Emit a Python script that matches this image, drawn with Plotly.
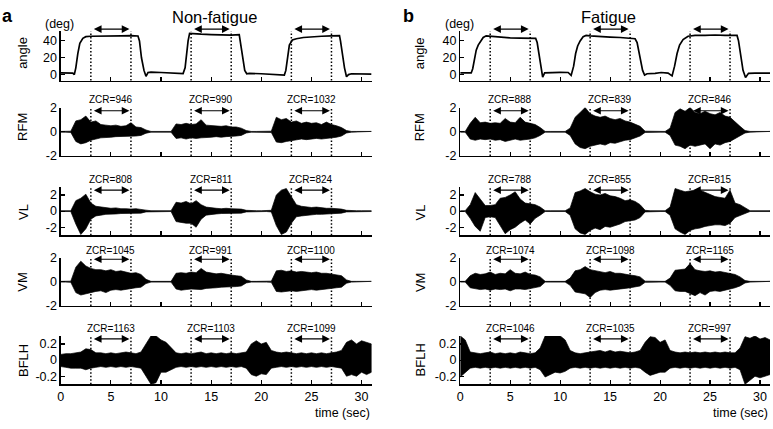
import plotly.graph_objects as go

# ---------------- data ----------------
# knee angle (deg): sample times (sec) and values
NF_ANG_T = [0, 1.2, 1.35, 1.5, 1.7, 1.9, 2.2, 2.5, 3, 4, 5, 6, 7, 7.7, 7.85, 8.05, 8.3, 8.5, 8.7, 9, 10, 11,
            12.2, 12.4, 12.55, 12.7, 12.85, 13.2, 14, 15, 16, 17, 17.8, 17.9, 18.1, 18.35, 18.55, 18.8, 20, 21,
            22.3, 22.45, 22.6, 22.8, 23.1, 23.5, 24.2, 25, 26, 27, 27.8, 27.9, 28.1, 28.3, 28.5, 28.7, 29, 30, 31]
NF_ANG = [2, 1.8, 0, 8, 25, 37, 43, 45, 45.5, 45.8, 46.5, 46, 46.2, 45.8, 40, 20, 5, -2, 2.5, 3, 2.5, 1.8,
          1.2, 8, 25, 40, 49, 48.5, 48, 47.5, 47.2, 46.8, 47.5, 40, 20, 5, 1, 1.5, 1, 0.5,
          -0.5, 5, 20, 35, 41, 42.5, 44, 45, 45.5, 46, 46.3, 40, 22, 8, -2.5, 0, 1, 0.5, 0.5]

F_ANG_T = [0, 1.1, 1.25, 1.45, 1.6, 1.8, 2.0, 2.3, 2.6, 3, 4, 5, 6, 7, 7.55, 7.7, 7.9, 8.1, 8.25, 8.45, 9, 10,
           10.8, 11.1, 11.35, 11.55, 11.75, 12.0, 12.3, 12.6, 13, 14, 15, 16, 17, 17.5, 17.7, 17.95, 18.25,
           18.45, 18.7, 19.5, 20.1, 20.8, 21.2, 21.45, 21.7, 21.95, 22.3, 22.8, 23.5, 24.5, 25.5, 26.5, 27.7,
           27.85, 28.05, 28.3, 28.55, 28.85, 29.5, 31]
F_ANG = [2, 2, 7, 20, 29, 35, 39, 44, 46, 45.5, 44, 43.5, 43.2, 43, 43, 38, 22, 5, -3, 2, 2.5, 2.7,
         2.5, -1, 10, 25, 34, 40, 45, 46.5, 46, 45, 44.5, 44, 43.5, 42.5, 38, 22, 5,
         -0.5, 1, 1.5, 2.5, 1.8, -1.5, 10, 25, 35, 41.5, 45.5, 46.5, 46.5, 47, 46.5, 46.5,
         40, 22, 5, -3.5, 1.5, 1.8, 1.8]

# EMG envelopes (upper / lower), sampled every 0.5 s from 0 to 31 s
EMG_T = [i * 0.5 for i in range(63)]

NF_RFM_UP = [0.03, 0.03, 0.05, 0.90, 1.00, 1.30, 0.80, 0.90, 0.60, 0.55,
             0.50, 0.55, 0.45, 0.50, 0.75, 0.40, 0.35, 0.15, 0.03, 0.03,
             0.03, 0.03, 0.03, 0.65, 0.60, 0.70, 0.60, 0.65, 1.00, 0.55,
             0.50, 0.50, 0.45, 0.50, 0.40, 0.40, 0.30, 0.10, 0.03, 0.03,
             0.03, 0.03, 0.05, 1.20, 1.00, 1.10, 0.80, 0.90, 0.70, 0.80,
             0.70, 0.75, 0.60, 0.80, 0.60, 0.50, 0.35, 0.10, 0.03, 0.03,
             0.03, 0.03, 0.03]
NF_RFM_LO = [-0.03, -0.03, -0.05, -0.80, -1.00, -0.90, -0.70, -0.60, -0.50, -0.45,
             -0.45, -0.40, -0.40, -0.40, -0.35, -0.35, -0.30, -0.12, -0.03, -0.03,
             -0.03, -0.03, -0.03, -0.55, -0.50, -0.60, -0.50, -0.55, -0.50, -0.45,
             -0.45, -0.40, -0.45, -0.40, -0.35, -0.35, -0.30, -0.10, -0.03, -0.03,
             -0.03, -0.03, -0.05, -0.85, -0.90, -0.80, -0.70, -0.65, -0.60, -0.65,
             -0.60, -0.55, -0.60, -0.50, -0.50, -0.45, -0.35, -0.10, -0.03, -0.03,
             -0.03, -0.03, -0.03]

NF_VL_UP = [0.05, 0.05, 0.05, 1.30, 1.60, 2.10, 1.00, 0.60, 0.50, 0.45,
            0.35, 0.40, 0.30, 0.30, 0.25, 0.30, 0.25, 0.12, 0.05, 0.05,
            0.05, 0.05, 0.05, 1.10, 1.00, 1.20, 0.90, 1.30, 0.80, 0.50,
            0.40, 0.35, 0.30, 0.35, 0.30, 0.30, 0.25, 0.10, 0.05, 0.05,
            0.05, 0.05, 0.10, 2.00, 2.60, 2.80, 1.80, 0.80, 0.60, 0.50,
            0.45, 0.50, 0.40, 0.35, 0.35, 0.30, 0.25, 0.10, 0.05, 0.05,
            0.05, 0.05, 0.05]
NF_VL_LO = [-0.05, -0.05, -0.05, -1.60, -2.90, -2.20, -1.00, -0.60, -0.50, -0.40,
            -0.35, -0.35, -0.30, -0.30, -0.25, -0.25, -0.25, -0.10, -0.05, -0.05,
            -0.05, -0.05, -0.05, -1.30, -1.40, -1.50, -1.50, -2.00, -1.00, -0.50,
            -0.40, -0.35, -0.30, -0.30, -0.30, -0.25, -0.25, -0.10, -0.05, -0.05,
            -0.05, -0.05, -0.10, -1.80, -2.90, -2.60, -1.50, -0.70, -0.60, -0.50,
            -0.45, -0.40, -0.40, -0.35, -0.35, -0.30, -0.25, -0.10, -0.05, -0.05,
            -0.05, -0.05, -0.05]

NF_VM_UP = [0.03, 0.03, 0.05, 1.20, 1.70, 1.30, 1.10, 1.00, 1.00, 0.90,
            1.00, 0.85, 0.90, 0.80, 0.70, 0.75, 0.60, 0.20, 0.03, 0.03,
            0.03, 0.03, 0.03, 0.70, 0.75, 0.70, 0.80, 0.75, 1.10, 0.80,
            0.70, 0.65, 0.70, 0.60, 0.55, 0.50, 0.45, 0.15, 0.03, 0.03,
            0.03, 0.03, 0.05, 0.90, 0.95, 0.85, 0.90, 0.80, 0.85, 0.80,
            0.75, 0.80, 0.70, 0.70, 0.65, 0.60, 0.50, 0.15, 0.03, 0.03,
            0.03, 0.03, 0.03]
NF_VM_LO = [-0.03, -0.03, -0.05, -0.90, -1.10, -1.05, -0.90, -0.80, -0.75, -0.90,
            -0.70, -0.65, -0.70, -0.60, -0.55, -0.50, -0.45, -0.15, -0.03, -0.03,
            -0.03, -0.03, -0.03, -0.60, -0.70, -0.65, -0.60, -0.60, -0.65, -0.55,
            -0.50, -0.50, -0.45, -0.45, -0.40, -0.40, -0.35, -0.10, -0.03, -0.03,
            -0.03, -0.03, -0.05, -0.80, -0.85, -0.80, -0.75, -0.80, -0.70, -0.70,
            -0.65, -0.70, -0.60, -0.60, -0.55, -0.50, -0.45, -0.12, -0.03, -0.03,
            -0.03, -0.03, -0.03]

NF_BF_UP = [0.07, 0.08, 0.08, 0.09, 0.10, 0.14, 0.13, 0.09, 0.09, 0.08,
            0.09, 0.08, 0.09, 0.10, 0.09, 0.08, 0.10, 0.20, 0.30, 0.30,
            0.25, 0.22, 0.15, 0.09, 0.08, 0.09, 0.08, 0.09, 0.10, 0.08,
            0.09, 0.08, 0.09, 0.08, 0.09, 0.08, 0.09, 0.10, 0.20, 0.24,
            0.20, 0.22, 0.12, 0.10, 0.09, 0.10, 0.09, 0.08, 0.09, 0.08,
            0.09, 0.08, 0.09, 0.08, 0.09, 0.10, 0.12, 0.22, 0.25, 0.20,
            0.24, 0.22, 0.20]
NF_BF_LO = [-0.08, -0.09, -0.10, -0.10, -0.10, -0.12, -0.10, -0.09, -0.08, -0.09,
            -0.08, -0.09, -0.08, -0.09, -0.08, -0.09, -0.10, -0.20, -0.30, -0.28,
            -0.15, -0.15, -0.12, -0.09, -0.08, -0.09, -0.08, -0.09, -0.08, -0.09,
            -0.08, -0.09, -0.08, -0.09, -0.08, -0.09, -0.08, -0.10, -0.18, -0.20,
            -0.17, -0.18, -0.10, -0.09, -0.08, -0.09, -0.08, -0.09, -0.08, -0.09,
            -0.08, -0.09, -0.08, -0.09, -0.08, -0.09, -0.10, -0.20, -0.18, -0.20,
            -0.15, -0.18, -0.15]

F_RFM_UP = [0.03, 0.03, 0.70, 1.20, 0.75, 0.80, 0.70, 0.75, 0.70, 1.10,
            0.80, 0.75, 1.20, 0.80, 0.70, 0.60, 0.35, 0.03, 0.03, 0.03,
            0.03, 0.03, 0.30, 1.20, 1.60, 2.00, 1.50, 1.30, 1.20, 1.30,
            1.10, 1.00, 1.10, 0.90, 0.80, 0.60, 0.45, 0.05, 0.03, 0.03,
            0.03, 0.03, 0.30, 1.60, 1.90, 1.70, 2.00, 1.60, 1.50, 1.70,
            1.50, 1.40, 1.60, 1.30, 1.20, 0.80, 0.45, 0.10, 0.03, 0.03,
            0.03, 0.03, 0.03]
F_RFM_LO = [-0.03, -0.03, -0.60, -0.70, -0.60, -0.65, -0.60, -0.70, -0.65, -0.80,
            -0.70, -0.60, -0.70, -0.65, -0.60, -0.50, -0.30, -0.03, -0.03, -0.03,
            -0.03, -0.03, -0.30, -1.00, -1.30, -1.40, -1.20, -1.10, -1.00, -1.10,
            -0.90, -0.95, -0.80, -0.70, -0.65, -0.50, -0.35, -0.05, -0.03, -0.03,
            -0.03, -0.03, -0.30, -1.10, -1.20, -1.40, -1.10, -1.20, -1.10, -1.00,
            -1.40, -1.00, -1.10, -0.90, -0.80, -0.60, -0.35, -0.10, -0.03, -0.03,
            -0.03, -0.03, -0.03]

F_VL_UP = [0.05, 0.05, 0.80, 2.30, 1.50, 0.70, 0.70, 0.80, 1.60, 1.70,
           2.00, 2.40, 1.50, 1.00, 0.90, 0.80, 0.50, 0.05, 0.05, 0.05,
           0.05, 0.05, 0.40, 2.30, 2.50, 2.80, 2.40, 2.10, 2.00, 2.20,
           1.90, 1.80, 1.60, 1.30, 1.40, 1.20, 0.80, 0.10, 0.05, 0.05,
           0.05, 0.05, 0.50, 2.80, 2.60, 2.40, 2.50, 2.60, 2.60, 2.30,
           2.00, 1.80, 1.70, 1.60, 2.60, 1.00, 0.80, 0.40, 0.05, 0.05,
           0.05, 0.05, 0.05]
F_VL_LO = [-0.05, -0.05, -0.90, -1.90, -2.50, -0.80, -0.70, -0.80, -1.80, -2.80,
           -2.30, -2.00, -1.50, -1.10, -1.60, -0.90, -0.50, -0.05, -0.05, -0.05,
           -0.05, -0.05, -0.50, -2.20, -2.70, -2.90, -2.40, -2.10, -2.30, -1.90,
           -2.00, -1.80, -1.60, -1.30, -1.20, -1.10, -0.80, -0.10, -0.05, -0.05,
           -0.05, -0.05, -0.50, -2.20, -2.60, -2.90, -2.40, -2.20, -2.10, -1.90,
           -1.80, -1.70, -1.70, -1.80, -1.50, -0.80, -0.60, -0.30, -0.05, -0.05,
           -0.05, -0.05, -0.05]

F_VM_UP = [0.03, 0.03, 0.50, 0.70, 0.60, 0.65, 0.80, 0.60, 0.70, 0.65,
           1.00, 0.70, 0.65, 0.80, 0.60, 0.55, 0.40, 0.03, 0.03, 0.03,
           0.03, 0.03, 0.30, 0.90, 1.00, 1.25, 1.00, 0.90, 0.80, 0.75,
           0.85, 0.70, 0.70, 0.60, 0.55, 0.50, 0.40, 0.05, 0.03, 0.03,
           0.03, 0.03, 0.30, 0.95, 1.00, 1.05, 1.50, 1.00, 0.90, 0.85,
           0.90, 0.80, 0.85, 0.75, 0.70, 0.60, 0.40, 0.10, 0.03, 0.03,
           0.03, 0.03, 0.03]
F_VM_LO = [-0.03, -0.03, -0.50, -0.60, -0.65, -0.60, -0.70, -0.60, -0.65, -0.60,
           -0.75, -0.60, -0.60, -0.65, -0.55, -0.50, -0.40, -0.03, -0.03, -0.03,
           -0.03, -0.03, -0.30, -0.85, -0.90, -1.00, -1.30, -0.90, -0.70, -0.65,
           -0.70, -0.60, -0.60, -0.55, -0.50, -0.45, -0.35, -0.05, -0.03, -0.03,
           -0.03, -0.03, -0.30, -0.75, -0.80, -0.80, -1.00, -1.15, -0.90, -1.10,
           -0.80, -0.75, -0.80, -0.70, -0.60, -0.50, -0.35, -0.10, -0.03, -0.03,
           -0.03, -0.03, -0.03]

F_BF_UP = [0.30, 0.25, 0.10, 0.09, 0.08, 0.09, 0.10, 0.08, 0.09, 0.08,
           0.09, 0.08, 0.10, 0.09, 0.08, 0.09, 0.15, 0.30, 0.30, 0.30,
           0.30, 0.25, 0.12, 0.09, 0.08, 0.09, 0.10, 0.11, 0.12, 0.10,
           0.12, 0.10, 0.11, 0.10, 0.09, 0.10, 0.12, 0.22, 0.29, 0.28,
           0.22, 0.25, 0.12, 0.10, 0.09, 0.10, 0.09, 0.10, 0.09, 0.10,
           0.09, 0.10, 0.09, 0.10, 0.09, 0.09, 0.15, 0.29, 0.27, 0.30,
           0.26, 0.28, 0.25]
F_BF_LO = [-0.21, -0.15, -0.10, -0.09, -0.10, -0.09, -0.10, -0.09, -0.10, -0.09,
           -0.10, -0.09, -0.10, -0.09, -0.10, -0.09, -0.12, -0.21, -0.18, -0.15,
           -0.16, -0.14, -0.10, -0.09, -0.10, -0.09, -0.10, -0.09, -0.10, -0.09,
           -0.10, -0.09, -0.10, -0.09, -0.10, -0.09, -0.10, -0.15, -0.19, -0.17,
           -0.15, -0.15, -0.10, -0.09, -0.10, -0.09, -0.10, -0.09, -0.10, -0.09,
           -0.10, -0.09, -0.10, -0.09, -0.10, -0.09, -0.12, -0.30, -0.25, -0.20,
           -0.22, -0.20, -0.18]

# zero-crossing rates per window
NF_ZCR = {"RFM": [946, 990, 1032], "VL": [808, 811, 824], "VM": [1045, 991, 1100], "BFLH": [1163, 1103, 1099]}
F_ZCR = {"RFM": [888, 839, 846], "VL": [788, 855, 815], "VM": [1074, 1098, 1165], "BFLH": [1046, 1035, 997]}

WINDOWS = [(3, 7), (13, 17), (23, 27)]
ROW_NAMES = ["angle", "RFM", "VL", "VM", "BFLH"]
PANEL_TITLES = ["Non-fatigue", "Fatigue"]
PANEL_LETTERS = ["a", "b"]
X_TICKS = [0, 5, 10, 15, 20, 25, 30]
Y_TICKS = [[0, 20, 40], [-2, 0, 2], [-2, 0, 2], [-2, 0, 2], [-0.2, 0, 0.2]]
Y_TICKTEXT = [["0", "20", "40"], ["-2", "0", "2"], ["-2", "0", "2"], ["-2", "0", "2"], ["-0.2", "0", "0.2"]]

# ---------------- layout constants ----------------
W, H = 773, 429
FONT = "Arial, 'Liberation Sans', Helvetica, sans-serif"
X_PIX = [(58, 370), (459, 770)]
Y_PIX = [(25, 76), (104, 154), (186, 236), (259, 309), (340, 390)]
Y_RANGES = [[-7, 51.5], [-2, 2], [-3, 3], [-2, 2], [-0.3, 0.3]]
ARROW_Y = [54, 1.74, 2.6, 1.86, 0.263]      # in data units of each row
TEXT_Y = [None, 2.68, 3.92, 2.58, 0.398]
LABEL_PIX_Y = [47.5, 124, 212, 284, 365]
LABEL_PIX_X = [20, 419]

panels = [
    {"ang_t": NF_ANG_T, "ang": NF_ANG, "emg": [(NF_RFM_UP, NF_RFM_LO), (NF_VL_UP, NF_VL_LO),
                                             (NF_VM_UP, NF_VM_LO), (NF_BF_UP, NF_BF_LO)], "zcr": NF_ZCR},
    {"ang_t": F_ANG_T, "ang": F_ANG, "emg": [(F_RFM_UP, F_RFM_LO), (F_VL_UP, F_VL_LO),
                                           (F_VM_UP, F_VM_LO), (F_BF_UP, F_BF_LO)], "zcr": F_ZCR},
]


def px_x(p):
    return p / W


def px_y(p):
    return 1 - p / H


def dom(r, v):
    lo, hi = Y_RANGES[r]
    return (v - lo) / (hi - lo)


fig = go.Figure()
layout = dict(
    width=W, height=H, margin=dict(l=0, r=0, t=0, b=0),
    paper_bgcolor="white", plot_bgcolor="white", showlegend=False,
    font=dict(family=FONT, color="black", size=12),
)
shapes = []
annotations = []

for p, panel in enumerate(panels):
    for r in range(5):
        idx = p * 5 + r + 1
        suf = "" if idx == 1 else str(idx)
        xr, yr = "x" + suf, "y" + suf
        x0, x1 = X_PIX[p]
        ytop, ybot = Y_PIX[r]
        layout["xaxis" + suf] = dict(
            domain=[px_x(x0), px_x(x1)], range=[0, 31], anchor=yr,
            tickvals=X_TICKS, ticks="inside", ticklen=4, tickwidth=1.1, tickcolor="black",
            showline=True, linecolor="black", linewidth=1.3,
            showgrid=False, zeroline=False, showticklabels=(r == 4),
            tickfont=dict(size=12.5, family=FONT, color="black"), fixedrange=True,
        )
        layout["yaxis" + suf] = dict(
            domain=[px_y(ybot), px_y(ytop)], range=Y_RANGES[r], anchor=xr,
            tickvals=Y_TICKS[r], ticktext=Y_TICKTEXT[r],
            ticks="inside", ticklen=4, tickwidth=1.1, tickcolor="black",
            showline=True, linecolor="black", linewidth=1.3,
            showgrid=False, zeroline=False,
            tickfont=dict(size=12.5, family=FONT, color="black"), fixedrange=True,
        )
        # data traces
        if r == 0:
            fig.add_trace(go.Scatter(x=panel["ang_t"], y=panel["ang"], mode="lines",
                                     line=dict(color="black", width=1.7),
                                     xaxis=xr, yaxis=yr, hoverinfo="skip"))
        else:
            up, lo = panel["emg"][r - 1]
            fig.add_trace(go.Scatter(x=EMG_T + EMG_T[::-1], y=up + lo[::-1], mode="lines",
                                     fill="toself", fillcolor="black",
                                     line=dict(color="black", width=0.7),
                                     xaxis=xr, yaxis=yr, hoverinfo="skip"))
        ydom = yr + " domain"
        for k, (a, b) in enumerate(WINDOWS):
            # dotted window boundaries
            for v in (a, b):
                shapes.append(dict(type="line", xref=xr, yref=ydom, x0=v, x1=v, y0=0, y1=1,
                                   line=dict(color="black", width=1.5, dash="1.5px,2px")))
            # double-headed arrow
            annotations.append(dict(xref=xr, yref=ydom, axref=xr, ayref=ydom,
                                    x=b - 0.15, y=dom(r, ARROW_Y[r]), ax=a + 0.15, ay=dom(r, ARROW_Y[r]),
                                    text="", showarrow=True, arrowhead=2, startarrowhead=2,
                                    arrowside="end+start", arrowsize=1.4, startarrowsize=1.4,
                                    arrowwidth=1.1, arrowcolor="black"))
            if r > 0:
                annotations.append(dict(xref=xr, yref=ydom, x=(a + b) / 2, y=dom(r, TEXT_Y[r]),
                                        text="ZCR=%d" % panel["zcr"][ROW_NAMES[r]][k],
                                        showarrow=False, xanchor="center", yanchor="middle",
                                        font=dict(size=10, family=FONT, color="black")))
        # row label
        annotations.append(dict(xref="paper", yref="paper", x=px_x(LABEL_PIX_X[p]), y=px_y(LABEL_PIX_Y[r]),
                                text=ROW_NAMES[r], textangle=-90, showarrow=False,
                                xanchor="center", yanchor="middle",
                                font=dict(size=13, family=FONT, color="black")))
    # panel title, letter, unit, x label
    annotations.append(dict(xref="paper", yref="paper", x=px_x([212, 608][p]), y=px_y(10),
                            text=PANEL_TITLES[p], showarrow=False, xanchor="center", yanchor="middle",
                            font=dict(size=16.5, family=FONT, color="black")))
    annotations.append(dict(xref="paper", yref="paper", x=px_x([5, 407][p]), y=px_y(9),
                            text="<b>%s</b>" % PANEL_LETTERS[p], showarrow=False,
                            xanchor="center", yanchor="middle",
                            font=dict(size=18, family=FONT, color="black")))
    annotations.append(dict(xref="paper", yref="paper", x=px_x(X_PIX[p][0] - 1), y=px_y(18),
                            text="(deg)", showarrow=False, xanchor="center", yanchor="middle",
                            font=dict(size=12.5, family=FONT, color="black")))
    annotations.append(dict(xref="paper", yref="paper", x=px_x(X_PIX[p][1]), y=px_y(420),
                            text="time (sec)", showarrow=False, xanchor="right", yanchor="middle",
                            font=dict(size=12.5, family=FONT, color="black")))

layout["shapes"] = shapes
layout["annotations"] = annotations
fig.update_layout(**layout)
fig.write_html("out.html", config={"displayModeBar": False, "staticPlot": True},
               post_script="document.body.style.margin='0';document.body.style.overflow='hidden';")
